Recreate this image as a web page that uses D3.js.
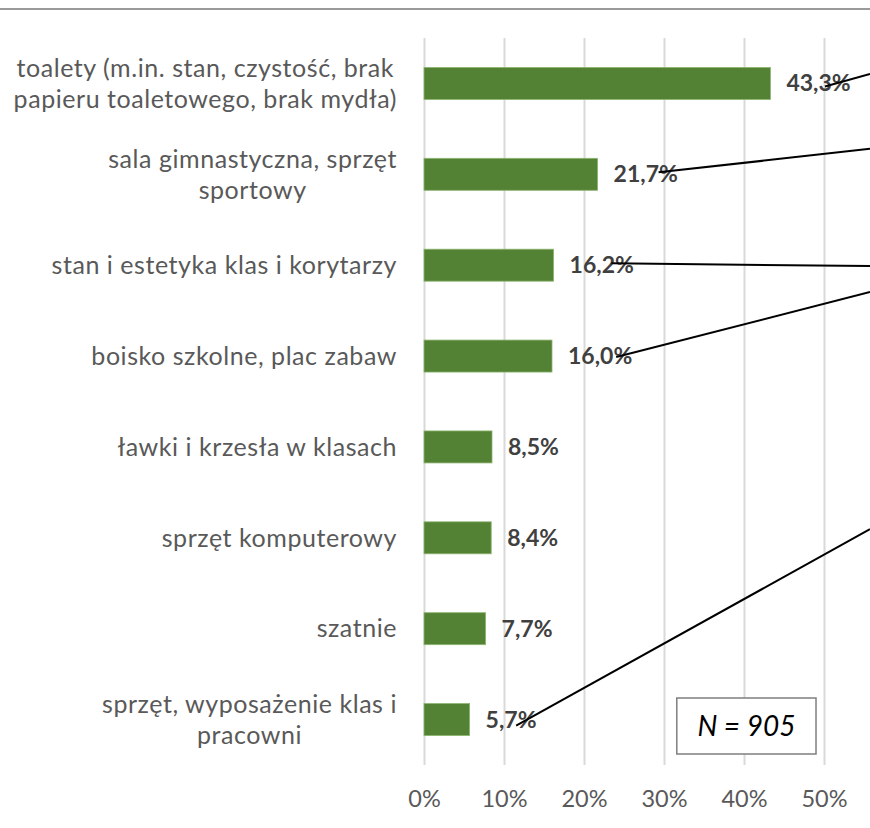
<!DOCTYPE html>
<html><head><meta charset="utf-8">
<script src="https://cdn.jsdelivr.net/npm/d3@7"></script>
<style>body{margin:0;background:#fff}svg{display:block}</style>
</head><body>
<svg id="c" width="870" height="828"></svg>
<script>
const categories = [
  ["toalety (m.in. stan, czystość, brak", "papieru toaletowego, brak mydła)"],
  ["sala gimnastyczna, sprzęt", "sportowy"],
  ["stan i estetyka klas i korytarzy"],
  ["boisko szkolne, plac zabaw"],
  ["ławki i krzesła w klasach"],
  ["sprzęt komputerowy"],
  ["szatnie"],
  ["sprzęt, wyposażenie klas i", "pracowni"]
];
const values = [43.3, 21.7, 16.2, 16.0, 8.5, 8.4, 7.7, 5.7];
const valueLabels = ["43,3%", "21,7%", "16,2%", "16,0%", "8,5%", "8,4%", "7,7%", "5,7%"];
const tickValues = [0, 10, 20, 30, 40, 50];
const tickLabels = ["0%", "10%", "20%", "30%", "40%", "50%"];
const sampleNote = "N = 905";
// leader lines: category index, fraction along value label where it starts, end point in data units
const leaderCats = [0, 1, 2, 3, 7];
const leaderStartFrac = [0.6, 0.7, 0.65, 0.75, 0.6];
const leaderStartDy = [3, -2, -2, 1, 6];
const leaderEndValue = [55.75, 55.75, 55.75, 55.75, 55.75];
const leaderEndPos = [-0.105, 0.72, 2.01, 2.295, 4.905];

const W = 870, H = 828;
const svg = d3.select("#c");
const font = "Lato, 'Open Sans', sans-serif";

const x = d3.scaleLinear().domain([0, 60]).range([424, 904]);
const y = d3.scaleBand().domain(d3.range(categories.length)).range([38, 765])
  .paddingInner(0.648).paddingOuter(0.324);
const yPos = d3.scaleLinear().domain([0, categories.length - 1])
  .range([y(0) + y.bandwidth() / 2, y(categories.length - 1) + y.bandwidth() / 2]);

// top rule
svg.append("line").attr("x1", 0).attr("x2", W).attr("y1", 9).attr("y2", 9)
  .attr("stroke", "#9a9a9a").attr("stroke-width", 2);

// gridlines via axis
const gx = svg.append("g").attr("transform", "translate(0,765)")
  .call(d3.axisBottom(x).tickValues(tickValues).tickSize(-(765 - 38))
    .tickFormat((d, i) => tickLabels[i]));
gx.select(".domain").remove();
gx.selectAll(".tick line").attr("stroke", "#d9d9d9").attr("stroke-width", 2);
gx.selectAll(".tick text").attr("fill", "#595959").attr("font-family", font)
  .attr("font-size", 23.5).attr("dy", 0).attr("y", 42);

// bars
svg.append("g").selectAll("rect").data(values).join("rect")
  .attr("x", x(0)).attr("y", (d, i) => y(i))
  .attr("width", d => x(d) - x(0)).attr("height", y.bandwidth())
  .attr("fill", "#548235").attr("stroke", "#8cb56f").attr("stroke-width", 0.8);

// category labels
const catG = svg.append("g");
categories.forEach((lines, i) => {
  const g = catG.append("g");
  const cy = y(i) + y.bandwidth() / 2;
  const lh = 31;
  const texts = lines.map((l, j) => g.append("text").text(l)
    .attr("font-family", font).attr("font-size", 25).attr("letter-spacing", 0.55)
    .attr("fill", "#595959")
    .attr("text-anchor", "middle")
    .attr("y", cy + (j - (lines.length - 1) / 2) * lh).attr("dy", "0.35em"));
  const maxW = d3.max(texts, t => t.node().getComputedTextLength());
  texts.forEach(t => t.attr("x", 397 - maxW / 2));
});

// value labels
const vl = svg.append("g").selectAll("text").data(values).join("text")
  .attr("x", d => x(d) + 16).attr("y", (d, i) => y(i) + y.bandwidth() / 2)
  .attr("dy", "0.35em").attr("font-family", font).attr("font-weight", "bold")
  .attr("font-size", 23).attr("fill", "#404040")
  .text((d, i) => valueLabels[i]);
const vlNodes = vl.nodes();

// leader lines
leaderCats.forEach((c, k) => {
  const n = vlNodes[c];
  const sx = x(values[c]) + 16 + n.getComputedTextLength() * leaderStartFrac[k];
  const sy = y(c) + y.bandwidth() / 2 + leaderStartDy[k];
  svg.append("line").attr("x1", sx).attr("y1", sy)
    .attr("x2", x(leaderEndValue[k])).attr("y2", yPos(leaderEndPos[k]))
    .attr("stroke", "#000").attr("stroke-width", 2);
});

// N box
const bx = x(31.6), bw = x(49) - x(31.6);
svg.append("rect").attr("x", bx).attr("y", 698).attr("width", bw).attr("height", 56)
  .attr("fill", "#fff").attr("stroke", "#7f7f7f").attr("stroke-width", 1.5);
svg.append("text").attr("x", bx + bw / 2).attr("y", 726).attr("dy", "0.35em")
  .attr("text-anchor", "middle").attr("font-family", font).attr("font-style", "italic")
  .attr("font-size", 28).attr("fill", "#000").text(sampleNote);
</script>
</body></html>
